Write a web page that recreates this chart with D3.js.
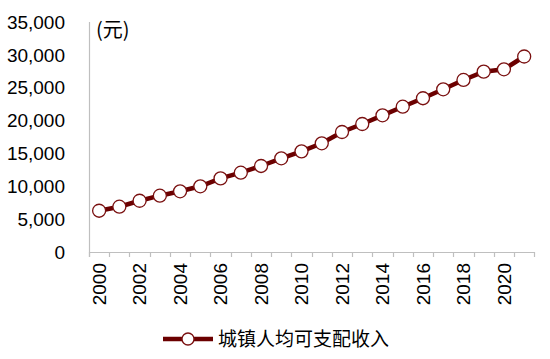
<!DOCTYPE html>
<html>
<head>
<meta charset="utf-8">
<script src="https://cdn.jsdelivr.net/npm/d3@7"></script>
<style>
  html, body { margin: 0; padding: 0; background: #fff; }
  svg { display: block; }
  text { font-family: "Liberation Sans", Arial, sans-serif; fill: #000; }
  .cjk { font-family: "Noto Sans CJK SC", sans-serif; }
</style>
</head>
<body>
<script>
const years = [2000,2001,2002,2003,2004,2005,2006,2007,2008,2009,2010,2011,2012,2013,2014,2015,2016,2017,2018,2019,2020,2021];
const income = [6280,6890,7800,8570,9240,10000,11200,12070,13090,14260,15320,16540,18260,19480,20800,22110,23400,24760,26180,27440,27800,29750];
const yTicks = [0,5000,10000,15000,20000,25000,30000,35000];
const xLabelYears = [2000,2002,2004,2006,2008,2010,2012,2014,2016,2018,2020];
const seriesName = "城镇人均可支配收入";
const unitLabel = "(元)";

const W = 550, H = 359;
const svg = d3.select("body").append("svg").attr("width", W).attr("height", H);

const x = d3.scaleBand().domain(years).range([89, 534.3]).padding(0);
const y = d3.scaleLinear().domain([0, 35000]).range([252, 22]);
const bw = x.bandwidth();
const cx = d => x(d) + bw / 2;

const axisColor = "#bfbfbf";

// Y axis labels
const yAxis = d3.axisLeft(y).tickValues(yTicks).tickSize(0).tickPadding(24).tickFormat(d3.format(","));
const gy = svg.append("g").attr("transform", "translate(89,0)").call(yAxis);
gy.select(".domain").remove();
gy.selectAll("text").attr("font-size", 19).attr("font-family", "Liberation Sans, Arial, sans-serif").attr("fill", "#000").attr("dy", "0.33em");

// Y axis line
svg.append("line").attr("x1", 89.5).attr("x2", 89.5).attr("y1", y(35000)).attr("y2", 257)
  .attr("stroke", axisColor).attr("stroke-width", 1.2);

// X axis line
svg.append("line").attr("x1", 89).attr("x2", x.range()[1] + 0.5).attr("y1", 252.5).attr("y2", 252.5)
  .attr("stroke", axisColor).attr("stroke-width", 1.2);

// X ticks at band boundaries
const tickPos = years.map(d => x(d)).concat([x(years[years.length - 1]) + bw]);
svg.append("g").selectAll("line").data(tickPos).join("line")
  .attr("x1", d => Math.round(d) + 0.5).attr("x2", d => Math.round(d) + 0.5)
  .attr("y1", 252).attr("y2", 257)
  .attr("stroke", axisColor).attr("stroke-width", 1.2);

// X labels rotated
svg.append("g").selectAll("text").data(xLabelYears).join("text")
  .attr("transform", d => `translate(${cx(d)},263) rotate(-90)`)
  .attr("text-anchor", "end")
  .attr("dy", "0.35em")
  .attr("font-size", 19)
  .text(d => d);

// Unit label
svg.append("text").attr("class", "cjk").attr("x", 96).attr("y", 37).attr("font-size", 20).text(unitLabel);

// Line
const lineColor = "#6b0000";
const line = d3.line().x((d, i) => cx(years[i])).y(d => y(d));
svg.append("path").datum(income).attr("d", line)
  .attr("fill", "none").attr("stroke", lineColor).attr("stroke-width", 4.5);

svg.append("g").selectAll("circle").data(income).join("circle")
  .attr("cx", (d, i) => cx(years[i])).attr("cy", d => y(d)).attr("r", 6.5)
  .attr("fill", "#fff").attr("stroke", "#7a1010").attr("stroke-width", 1.3);

// Legend
const ly = 339;
svg.append("line").attr("x1", 163).attr("x2", 213).attr("y1", ly).attr("y2", ly)
  .attr("stroke", lineColor).attr("stroke-width", 4.5);
svg.append("circle").attr("cx", 188).attr("cy", ly).attr("r", 6)
  .attr("fill", "#fff").attr("stroke", "#7a1010").attr("stroke-width", 1.3);
svg.append("text").attr("class", "cjk").attr("x", 218).attr("y", ly).attr("dy", "0.35em")
  .attr("font-size", 19).text(seriesName);
</script>
</body>
</html>
